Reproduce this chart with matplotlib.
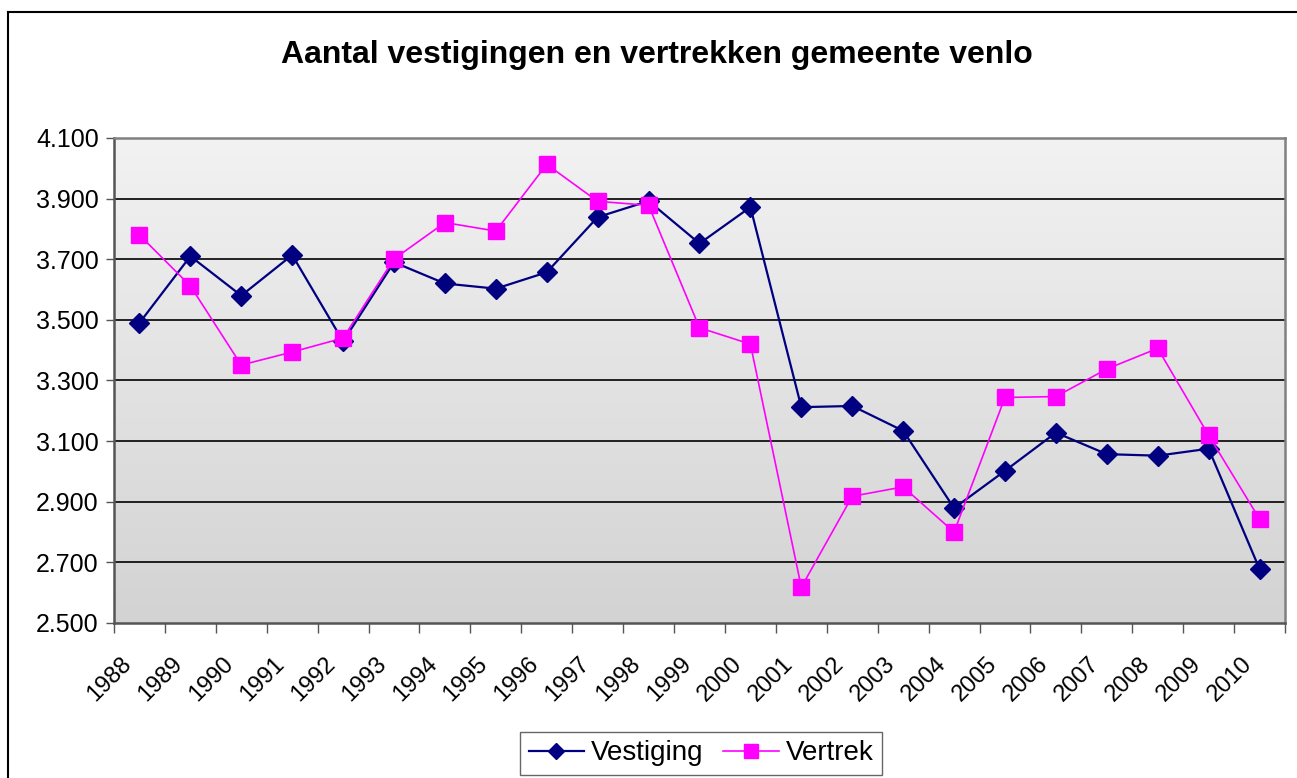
import matplotlib
matplotlib.use("Agg")
import matplotlib.pyplot as plt
import numpy as np
from matplotlib.lines import Line2D
from matplotlib.transforms import ScaledTranslation

years = [str(y) for y in range(1988, 2011)]
vestiging = [3490, 3710, 3580, 3714, 3429, 3690, 3620, 3603, 3657, 3839, 3892, 3752,
             3872, 3212, 3216, 3134, 2879, 3002, 3128, 3057, 3052, 3075, 2678]
vertrek = [3780, 3612, 3351, 3394, 3440, 3701, 3821, 3793, 4013, 3891, 3878, 3474,
           3420, 2618, 2918, 2949, 2800, 3244, 3247, 3338, 3406, 3119, 2843]
y_ticks = list(range(2500, 4101, 200))
title = "Aantal vestigingen en vertrekken gemeente venlo"

plt.rcParams['font.family'] = ['Liberation Sans', 'DejaVu Sans']

fig = plt.figure(figsize=(12.97, 7.78), dpi=100)
ax = fig.add_axes([114/1297, 1 - 623/778, (1285 - 114)/1297, (623 - 138)/778])

n = len(years)
x = np.arange(n)

# gradient background
grad = np.linspace(0, 1, 256).reshape(-1, 1, 1)
top = np.array([0.949, 0.949, 0.949]).reshape(1, 1, 3)
bot = np.array([0.827, 0.827, 0.827]).reshape(1, 1, 3)
img = top + (bot - top) * grad
ax.imshow(img, extent=[-0.5, n - 0.5, 2500, 4100], aspect='auto', zorder=0,
          origin='upper', interpolation='bilinear')

ax.set_xlim(-0.5, n - 0.5)
ax.set_ylim(2500, 4100)

for v in y_ticks[1:-1]:
    ax.axhline(v, color='black', lw=1.2, zorder=1)

ax.plot(x, vestiging, color='#000080', lw=1.6, marker='D', markersize=10,
        markeredgecolor='#000080', markerfacecolor='#000080', zorder=3, label='Vestiging')
ax.plot(x, vertrek, color='#FF00FF', lw=1.2, marker='s', markersize=11.5,
        markeredgecolor='#FF00FF', markerfacecolor='#FF00FF', zorder=3, label='Vertrek')

for s in ax.spines.values():
    s.set_color('#808080')
    s.set_linewidth(1.8)
ax.spines['left'].set_color('#555555')
ax.spines['bottom'].set_color('#555555')

ax.set_yticks(y_ticks)
ax.set_yticklabels([f"{v:,}".replace(',', '.') for v in y_ticks], fontsize=18)
ax.tick_params(axis='y', length=6, width=1, color='#555555', pad=5)

ax.set_xticks(np.arange(-0.5, n, 1.0), minor=False)
ax.set_xticklabels([])
ax.tick_params(axis='x', which='major', length=7, width=1, color='#555555')
ax.set_xticks(x, minor=True)
ax.set_xticklabels(years, minor=True, fontsize=17, rotation=45, ha='right',
                   va='top', rotation_mode='anchor')
ax.tick_params(axis='x', which='minor', length=0, pad=20)
shift = ScaledTranslation(-19/100, -2/100, fig.dpi_scale_trans)
for lbl in ax.get_xticklabels(minor=True):
    lbl.set_transform(lbl.get_transform() + shift)

fig.text(657/1297, 1 - 55/778, title, ha='center', va='center',
         fontsize=23, fontweight='bold')

# outer frame (top and left visible)
fig.add_artist(Line2D([8/1297, 1], [1 - 12/778, 1 - 12/778], color='black', lw=1.5,
                      transform=fig.transFigure))
fig.add_artist(Line2D([8/1297, 8/1297], [0, 1 - 12/778], color='black', lw=1.5,
                      transform=fig.transFigure))

leg = fig.legend(loc='upper center', bbox_to_anchor=(701/1297, 1 - 732/778), ncol=2,
                 fontsize=20, frameon=True, fancybox=False, edgecolor='#404040',
                 handlelength=2.0, handletextpad=0.25, columnspacing=0.7,
                 borderpad=0.3, borderaxespad=0, markerscale=0.85)
leg.get_frame().set_linewidth(1.0)

fig.savefig("out.png", dpi=100)
